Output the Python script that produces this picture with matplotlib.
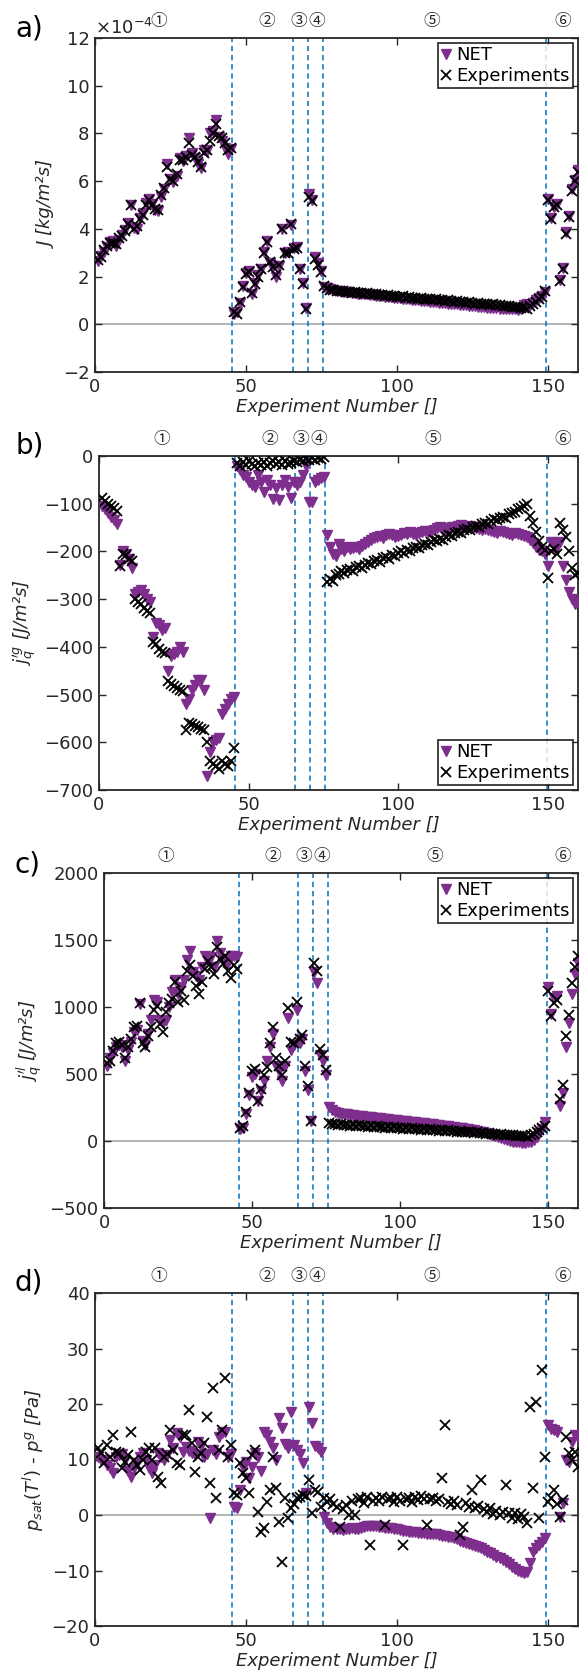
import matplotlib
matplotlib.use('Agg')
import matplotlib.pyplot as plt
import matplotlib.transforms as mtransforms
import numpy as np

plt.rcParams['font.family'] = ['DejaVu Sans', 'Noto Sans CJK JP']
plt.rcParams['mathtext.fontset'] = 'dejavusans'

#Experiment numbers and region borders (regions 1-6)
exp_no = np.arange(1, 161)
borders = [45.5, 65.5, 70.5, 75.5, 149.5]
region_labels = ['①', '②', '③', '④', '⑤', '⑥']
region_label_x = [21, 57, 67.5, 73.5, 111.5, 155]

#a) mass flux J [1e-4 kg/m2s]
j_exp = [2.7, 2.8, 3.1, 3.3, 3.4, 3.4, 3.35, 3.6, 3.7, 3.9, 4.2, 5.0, 4.0, 4.1, 4.4, 4.6, 5.0, 5.2, 5.0, 4.85,
         4.8, 5.4, 5.7, 6.6, 6.1, 6.0, 6.3, 6.9, 6.9, 7.0, 7.6, 7.1, 7.0, 6.8, 6.6, 7.2, 7.3, 7.7, 8.0, 8.4,
         7.9, 7.8, 7.6, 7.3, 7.4,
         0.5, 0.45, 0.95, 1.55, 2.1, 2.2, 1.3, 1.7, 2.0, 2.3, 3.0, 3.45, 2.6, 2.4, 2.05, 2.5, 4.0, 3.0, 3.0, 4.2,
         3.15, 3.2, 2.3, 1.7, 0.65,
         5.35, 5.15, 2.75, 2.5, 2.2,
         1.60, 1.50, 1.45, 1.42, 1.40, 1.38, 1.40, 1.36, 1.35, 1.33,
         1.34, 1.30, 1.32, 1.28, 1.30, 1.26, 1.25, 1.27, 1.22, 1.24,
         1.20, 1.21, 1.18, 1.20, 1.16, 1.15, 1.17, 1.12, 1.14, 1.10,
         1.11, 1.08, 1.10, 1.06, 1.05, 1.07, 1.02, 1.04, 1.00, 1.01,
         0.98, 1.00, 0.96, 0.95, 0.97, 0.93, 0.94, 0.90, 0.92, 0.88,
         0.87, 0.89, 0.85, 0.86, 0.83, 0.82, 0.84, 0.80, 0.79, 0.78,
         0.76, 0.77, 0.74, 0.73, 0.72, 0.70, 0.68, 0.62, 0.75, 0.85,
         0.95, 1.05, 1.15, 1.40,
         5.2, 4.4, 4.9, 5.0, 1.8, 2.3, 3.8, 4.5, 5.6, 6.0, 6.4]
j_net = [2.65, 2.85, 3.05, 3.25, 3.45, 3.5, 3.3, 3.55, 3.75, 3.95, 4.25, 5.0, 4.05, 4.0, 4.45, 4.65, 5.1, 5.25, 5.05, 4.8,
         4.75, 5.35, 5.65, 6.7, 6.1, 5.95, 6.2, 6.95, 6.85, 7.05, 7.8, 7.2, 6.95, 6.7, 6.55, 7.3, 7.25, 8.0, 8.1, 8.55,
         7.85, 7.7, 7.4, 7.15, 7.35,
         0.45, 0.5, 0.9, 1.6, 2.15, 2.25, 1.25, 1.75, 2.05, 2.3, 3.05, 3.5, 2.55, 2.45, 2.0, 2.45, 4.0, 3.0, 3.05, 4.15,
         3.2, 3.25, 2.3, 1.75, 0.7,
         5.45, 5.2, 2.8, 2.55, 2.25,
         1.55, 1.52, 1.48, 1.44, 1.41, 1.40, 1.37, 1.36, 1.34, 1.32,
         1.30, 1.29, 1.28, 1.26, 1.25, 1.23, 1.22, 1.20, 1.19, 1.18,
         1.16, 1.15, 1.13, 1.12, 1.10, 1.09, 1.08, 1.06, 1.05, 1.03,
         1.02, 1.01, 0.99, 0.98, 0.96, 0.95, 0.94, 0.92, 0.91, 0.90,
         0.88, 0.87, 0.86, 0.84, 0.83, 0.82, 0.80, 0.79, 0.78, 0.76,
         0.75, 0.74, 0.73, 0.72, 0.70, 0.69, 0.68, 0.67, 0.66, 0.65,
         0.64, 0.63, 0.62, 0.62, 0.61, 0.65, 0.80, 0.85, 0.82, 0.90,
         1.00, 1.10, 1.20, 1.35,
         5.25, 4.45, 4.9, 5.05, 1.85, 2.35, 3.85, 4.55, 5.65, 6.05, 6.45]

#b) heat flux gas side [J/m2s]
jqg_exp = [-88, -95, -100, -105, -110, -115, -230, -205, -208, -215, -220,
           -300, -305, -310, -318, -325, -330, -390, -395, -405, -410, -412,
           -472, -478, -483, -487, -490, -493, -575, -560, -562, -565, -568, -572, -575,
           -600, -640, -645, -650, -655, -640, -645, -650, -640, -612,
           -15, -20, -12, -18, -10, -16, -22, -14, -18, -12, -20, -15, -10, -17, -13, -19, -11, -16, -14, -10,
           -12, -8, -10, -6, -9,
           -5, -8, -4, -7, -3,
           -265, -258, -262, -250, -248, -242, -245, -238, -236, -240,
           -233, -230, -234, -228, -225, -227, -220, -218, -222, -214,
           -212, -215, -208, -210, -204, -200, -203, -197, -199, -193,
           -190, -192, -186, -184, -186, -180, -177, -179, -173, -175,
           -169, -166, -168, -162, -160, -162, -156, -153, -155, -149,
           -147, -149, -143, -140, -142, -136, -133, -135, -129, -127,
           -129, -122, -120, -117, -112, -108, -104, -100, -125, -140,
           -160, -178, -190, -198,
           -255, -200, -195, -205, -140, -155, -170, -200, -235, -250, -245]
jqg_net = [-105, -112, -120, -128, -135, -142, -228, -200, -205, -215, -235,
           -290, -285, -280, -290, -300, -305, -380, -350, -355, -365, -360,
           -450, -420, -415, -410, -400, -410, -520, -510, -490, -480, -470, -470, -490,
           -670, -620, -600, -595, -590, -540, -530, -520, -510, -505,
           -20, -30, -40, -45, -55, -60, -65, -40, -55, -75, -50, -60, -90, -68, -92, -60, -50, -65, -88, -55,
           -60, -55, -40, -22, -96,
           -97, -55, -50, -47, -45,
           -165, -190, -205, -210, -185, -195, -200, -190, -195, -192,
           -190, -195, -188, -185, -180, -176, -172, -170, -168, -172,
           -165, -163, -166, -170, -168, -165, -162, -164, -160, -163,
           -166, -162, -160, -158, -160, -157, -155, -150, -148, -152,
           -155, -150, -148, -150, -146, -145, -148, -150, -146, -148,
           -150, -152, -155, -153, -156, -158, -160, -162, -158, -160,
           -162, -163, -165, -162, -164, -166, -168, -170, -175, -182,
           -190, -196, -200, -205,
           -230, -180, -185, -190, -180, -230, -260, -285, -300, -310, -305]

#c) heat flux liquid side [J/m2s]
jql_exp = [580, 600, 670, 730, 740, 720, 620, 700, 760, 850,
           860, 1030, 730, 700, 780, 850, 980, 1010, 870, 810,
           960, 1030, 1060, 1190, 1040, 1120, 1050, 1270, 1310, 1230,
           1160, 1100, 1190, 1280, 1340, 1300, 1250, 1450, 1360, 1320,
           1380, 1270, 1220, 1310, 1280,
           100, 110, 215, 360, 520, 540, 300, 390, 490, 550, 730, 850, 620, 560, 490, 600, 990, 740, 730, 1040,
           760, 790, 560, 410, 150,
           1330, 1270, 690, 640, 530,
           135, 125, 130, 120, 128, 118, 122, 115, 120, 112,
           118, 110, 115, 108, 112, 105, 110, 103, 107, 100,
           104, 98, 102, 95, 99, 93, 96, 90, 94, 88,
           91, 85, 89, 83, 86, 80, 84, 78, 81, 75,
           79, 72, 76, 70, 73, 67, 70, 64, 68, 61,
           65, 58, 62, 55, 58, 52, 55, 48, 52, 45,
           48, 42, 45, 38, 40, 35, 38, 30, 45, 55,
           65, 80, 95, 115,
           1120, 930, 1030, 1050, 310, 420, 780, 940, 1180, 1300, 1380]
jql_net = [560, 620, 660, 700, 720, 700, 600, 680, 740, 810,
           830, 1020, 750, 720, 800, 900, 1050, 1040, 900, 880,
           900, 1000, 1110, 1200, 1100, 1150, 1200, 1350, 1420, 1260,
           1230, 1200, 1300, 1380, 1350, 1370, 1300, 1490, 1400, 1360,
           1350, 1330, 1380, 1380, 1370,
           90, 100, 200, 340, 480, 500, 300, 370, 450, 600, 700, 800, 560, 520, 450, 560, 920, 680, 720, 980,
           730, 760, 520, 380, 150,
           1260, 1180, 640, 600, 490,
           255, 230, 215, 210, 205, 200, 198, 195, 192, 190,
           188, 185, 182, 180, 177, 175, 172, 170, 167, 165,
           162, 160, 157, 155, 152, 150, 147, 145, 142, 140,
           137, 135, 132, 130, 127, 124, 121, 118, 115, 112,
           109, 106, 103, 100, 97, 94, 91, 88, 85, 82,
           75, 70, 64, 58, 52, 45, 38, 30, 22, 15,
           5, 0, -5, -8, -10, -12, -15, -10, -5, 10,
           30, 60, 90, 145,
           1150, 950, 1070, 1080, 260, 360, 700, 880, 1100, 1250, 1330]

#d) pressure difference [Pa]
dp_exp = [12.0, 11.1, 9.3, 12.6, 10.5, 14.4, 11.4, 11.1, 8.4, 9.5,
          10.8, 15.0, 9.9, 9.0, 8.1, 10.0, 11.4, 12.0, 9.9, 12.0,
          6.9, 5.7, 10.5, 11.0, 15.3, 11.7, 9.3, 9.0, 14.4, 14.4,
          18.9, 12.9, 7.8, 10.5, 11.1, 12.9, 17.7, 5.7, 22.8, 3.0,
          11.7, 15.3, 24.6, 10.5, 12.6,
          3.9, 3.6, 9.3, 7.5, 6.6, 3.9, 10.8, 11.7, 0.6, -3.0, -2.4, 2.4, 4.5, 10.5, 4.8, -1.2, -8.4, 3.0, -0.6, 1.2,
          2.0, 3.0, 3.3, 3.6, 3.5,
          6.3, 0.3, 4.5, 4.2, 1.5,
          3.0, 2.4, 2.8, 2.0, 1.5, -2.1, 1.0, 1.8, 0.0, 2.5,
          0.0, 2.8, 3.0, 2.2, 3.3, -5.4, 2.5, 3.0, 2.6, 3.2,
          -1.8, 2.8, 3.0, 2.4, 3.2, 2.6, -5.4, 2.9, 3.1, 2.4,
          3.3, 2.7, 3.4, 2.9, -1.8, 2.8, 3.0, 2.5, 2.9, 6.6,
          16.2, 2.3, 2.0, 2.6, 1.8, -3.6, -2.1, 2.2, 1.5, 4.5,
          1.2, 1.6, 6.3, 1.0, 0.5, 1.2, 0.2, 0.8, 0.0, 0.5,
          5.4, 0.3, -0.5, 0.4, -0.8, 0.2, -0.3, -1.5, 19.5, 4.8,
          20.4, -0.6, 26.1, 10.5,
          2.4, 3.0, 4.5, 2.0, -0.3, 2.7, 14.1, 11.1, 9.9, 11.4, 8.7]
dp_net = [10.5, 10.0, 9.9, 9.0, 8.5, 7.5, 10.5, 10.8, 11.0, 9.9,
          8.0, 6.9, 8.5, 9.3, 10.5, 11.1, 10.0, 8.4, 7.5, 9.0,
          11.1, 10.5, 9.9, 10.8, 13.5, 12.0, 14.7, 14.0, 11.4, 12.3,
          11.5, 11.1, 10.8, 13.2, 12.5, 10.5, 11.0, -0.6, 11.7, 11.0,
          14.1, 14.7, 15.0, 10.5, 11.0,
          1.5, 1.2, 4.5, 8.7, 9.5, 6.6, 8.7, 11.1, 10.5, 8.0, 15.0, 14.4, 13.2, 12.0, 10.0, 17.4, 15.6, 12.8, 12.0, 18.6,
          12.6, 11.7, 11.0, 9.3, 4.0,
          19.5, 16.5, 12.5, 12.0, 11.4,
          -0.3, -1.5, -2.1, -2.6, -2.6, -2.5, -2.7, -2.6, -2.5, -2.4,
          -2.6, -2.5, -2.3, -2.2, -2.0, -2.0, -1.9, -2.0, -2.1, -2.2,
          -2.3, -2.4, -2.4, -2.5, -2.6, -2.7, -2.8, -2.9, -3.0, -3.0,
          -3.1, -3.2, -3.2, -3.3, -3.4, -3.4, -3.5, -3.5, -3.6, -3.7,
          -3.8, -3.9, -4.0, -4.2, -4.4, -4.6, -4.8, -5.0, -5.2, -5.4,
          -5.6, -5.8, -6.0, -6.3, -6.6, -6.9, -7.2, -7.5, -7.8, -8.1,
          -8.5, -8.9, -9.3, -9.7, -10.1, -10.3, -10.4, -10.2, -8.7, -6.6,
          -6.0, -5.4, -4.8, -4.2,
          16.2, 15.5, 15.3, 15.0, -0.3, 2.1, 9.9, 9.6, 13.2, 14.4, 14.0]

purple = '#7E2F8E'
dashblue = '#0072BD'
axcol = '#262626'


def draw_panel(ax, net, exp, ylim, yticks, ylabel, legend_loc=None):
    x_net = np.arange(1, len(net) + 1)
    x_exp = np.arange(1, len(exp) + 1)
    ax.axhline(0, color='#a6a6a6', lw=1.2, zorder=1)
    for b in borders:
        ax.axvline(b, color=dashblue, lw=1.1, dashes=(3.5, 2.5), zorder=2)
    ax.plot(x_net, net, 'v', color=purple, ms=7, mec=purple, label='NET', zorder=3)
    ax.plot(x_exp, exp, 'x', color='black', ms=7, mew=1.3, label='Experiments', zorder=4)
    ax.set_xlim(0, 160)
    ax.set_ylim(ylim)
    ax.set_xticks([0, 50, 100, 150])
    ax.set_yticks(yticks)
    ax.tick_params(direction='in', top=True, right=True, labelsize=13, length=5,
                   width=1.0, colors=axcol, pad=4)
    for s in ax.spines.values():
        s.set_color(axcol)
        s.set_linewidth(1.3)
    ax.set_xlabel('Experiment Number []', fontsize=13, style='italic', color=axcol, labelpad=2)
    ax.set_ylabel(ylabel, fontsize=13, style='italic', color=axcol, labelpad=4)
    #circled region numbers above the axes
    trans = mtransforms.blended_transform_factory(ax.transData, ax.transAxes)
    for lab, xl in zip(region_labels, region_label_x):
        ax.text(xl, 1.05, lab, transform=trans, ha='center', va='center', fontsize=12,
                color=axcol, family=['DejaVu Serif', 'Noto Sans CJK JP'])
    if legend_loc is not None:
        leg = ax.legend(loc=legend_loc, fontsize=13, frameon=True, fancybox=False,
                        edgecolor='black', borderpad=0.15, labelspacing=0.15,
                        handlelength=0.6, handletextpad=0.25, borderaxespad=0.3)
        leg.get_frame().set_linewidth(1.3)


fig = plt.figure(figsize=(5.85, 16.78), dpi=100)
W, H = 585.0, 1678.0

def axes_px(left, top, right, bottom):
    return fig.add_axes([left / W, 1 - bottom / H, (right - left) / W, (bottom - top) / H])

ax1 = axes_px(95, 38, 578, 372)
ax2 = axes_px(99, 456, 578, 790)
ax3 = axes_px(104, 873, 578, 1208)
ax4 = axes_px(95, 1293, 578, 1626)

draw_panel(ax1, j_net, j_exp, (-2, 12), np.arange(-2, 13, 2), 'J [kg/m²s]', 'upper right')
ax1.text(0.0, 1.0, r'$\times$10$^{-4}$', transform=ax1.transAxes, ha='left', va='bottom',
         fontsize=13, color=axcol)

draw_panel(ax2, jqg_net, jqg_exp, (-700, 0), np.arange(-700, 1, 100),
           r'$j_q^{\prime g}$ [J/m²s]', 'lower right')
draw_panel(ax3, jql_net, jql_exp, (-500, 2000), np.arange(-500, 2001, 500),
           r'$j_q^{\prime l}$ [J/m²s]', 'upper right')
draw_panel(ax4, dp_net, dp_exp, (-20, 40), np.arange(-20, 41, 10),
           r'$p_{sat}(T^l)$ - $p^g$ [Pa]')

#panel letters
for lab, yc in zip(['a)', 'b)', 'c)', 'd)'], [28, 445, 864, 1282]):
    fig.text(15 / W, 1 - yc / H, lab, fontsize=20, ha='left', va='center', color='black')

fig.savefig('out.png', dpi=100)
